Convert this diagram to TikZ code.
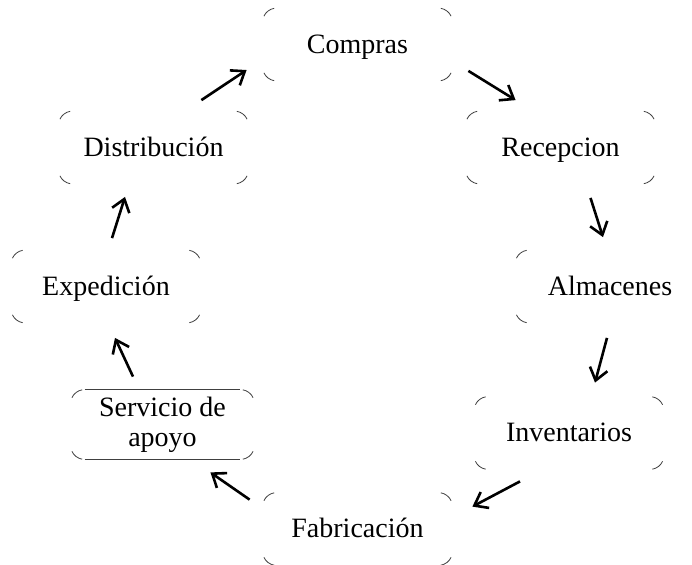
\documentclass[tikz,border=0pt]{standalone}
\usepackage{fontspec}
\setmainfont{Liberation Serif}
\usetikzlibrary{arrows.meta,positioning}

% short corner arcs of a box, the sides are left open
\newcommand{\boxcorners}[1]{%
  \draw[cornerline] ([shift={(7pt,-7pt)}]#1.north west) ++(155:7pt) arc[start angle=155,end angle=100,radius=7pt];
  \draw[cornerline] ([shift={(-7pt,-7pt)}]#1.north east) ++(80:7pt) arc[start angle=80,end angle=25,radius=7pt];
  \draw[cornerline] ([shift={(-7pt,7pt)}]#1.south east) ++(-25:7pt) arc[start angle=-25,end angle=-80,radius=7pt];
  \draw[cornerline] ([shift={(7pt,7pt)}]#1.south west) ++(-100:7pt) arc[start angle=-100,end angle=-155,radius=7pt];
}

\begin{document}
\begin{tikzpicture}[x=0.5pt,y=-0.5pt,
  every node/.style={font=\fontsize{14}{15}\selectfont, inner sep=0pt},
  stage/.style={rectangle, minimum width=94.5pt, minimum height=36pt, align=center},
  oneline/.style={stage, text height=9.5pt, text depth=1pt},
  cornerline/.style={black!75, line width=0.4pt},
  arr/.style={-{Straight Barb[length=6pt,width=9pt]}, line width=1.3pt}]

\useasboundingbox (0,0) rectangle (692,564);

  \node (cmp) [oneline] at (357.5,44.5) {Compras};
  \node (rec) [oneline] at (560.5,147.5) {Recepcion};
  \node (alm) [oneline] at (610,286.5) {Almacenes};
  \node (inv) [oneline] at (569,433) {Inventarios};
  \node (fab) [oneline] at (357.5,529) {Fabricación};
  \node (srv) [stage, minimum width=91.5pt, minimum height=34.5pt] at (162.5,424.5) {Servicio de\\apoyo};
  \node (exp) [oneline] at (106,286.5) {Expedición};
  \node (dis) [oneline] at (153.5,147.5) {Distribución};

  \foreach \n in {cmp,rec,alm,inv,fab,srv,exp,dis} {\boxcorners{\n}}

  \draw[cornerline] ([xshift=7pt]srv.north west) -- ([xshift=-7pt]srv.north east);
  \draw[cornerline] ([xshift=7pt]srv.south west) -- ([xshift=-7pt]srv.south east);

  \draw[arr] ([shift={(16,-10)}]cmp.south east) -- ([shift={(50,-11)}]rec.north west);
  \draw[arr] ([shift={(30,14)}]rec.south) -- ([shift={(-7,-13)}]alm.north);
  \draw[arr] ([shift={(-3,15)}]alm.south) -- ([shift={(26,-14)}]inv.north);
  \draw[arr] ([shift={(-49,12)}]inv.south) -- ([shift={(20,14)}]fab.north east);
  \draw[arr] ([shift={(-13,7)}]fab.north west) -- ([shift={(-44,13)}]srv.south east);
  \draw[arr] ([shift={(-29.5,-13)}]srv.north) -- ([shift={(9,15)}]exp.south);
  \draw[arr] ([shift={(6,-12)}]exp.north) -- ([shift={(-28.5,13)}]dis.south);
  \draw[arr] ([shift={(-47,-11)}]dis.north east) -- ([shift={(-16,25.5)}]cmp.west);

\end{tikzpicture}
\end{document}
